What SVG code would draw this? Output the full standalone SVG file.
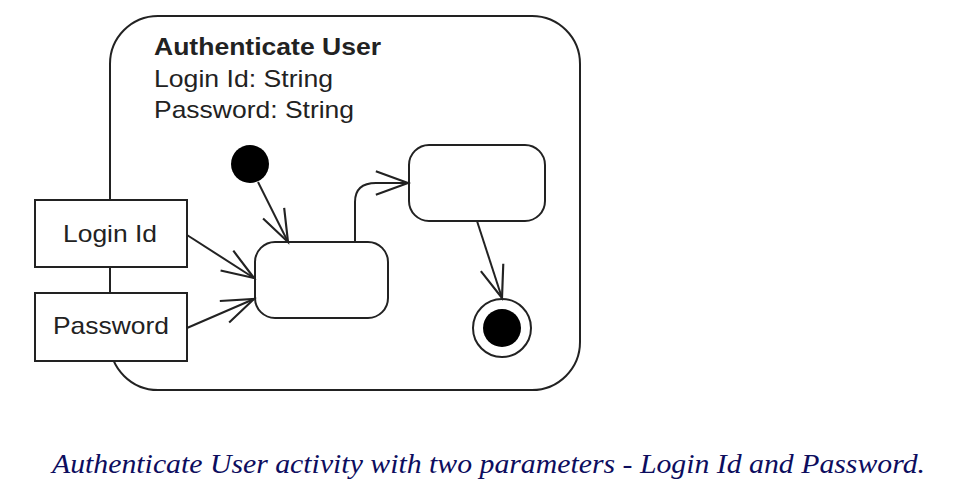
<svg xmlns="http://www.w3.org/2000/svg" width="966" height="494" viewBox="0 0 966 494">
<style>
.ln{fill:none;stroke:#222;stroke-width:2}
.bx{fill:#fff;stroke:#222;stroke-width:2}
.t{font-family:"Liberation Sans",Arial,sans-serif;font-size:24px;fill:#222}
.b{font-weight:bold}
.cap{font-family:"Liberation Serif","Times New Roman",serif;font-style:italic;font-size:28px;fill:#0d0d5e}
</style>
<defs>
<marker id="arr" markerUnits="userSpaceOnUse" markerWidth="40" markerHeight="30" refX="0" refY="0" viewBox="-32 -14 34 28" orient="auto" overflow="visible">
<path d="M-30,-11 L0,0 L-30,11" fill="none" stroke="#222" stroke-width="2"/>
</marker>
</defs>
<rect width="966" height="494" fill="#fff"/>
<g id="activity">
<rect class="bx" x="110" y="16" width="470" height="374" rx="48" ry="48"/>
<text class="t b" x="154" y="55" textLength="227" lengthAdjust="spacingAndGlyphs">Authenticate User</text>
<text class="t" x="154" y="87" textLength="179" lengthAdjust="spacingAndGlyphs">Login Id: String</text>
<text class="t" x="154" y="118" textLength="200" lengthAdjust="spacingAndGlyphs">Password: String</text>
</g>
<g id="login">
<rect class="bx" x="35" y="200" width="152" height="67"/>
<text class="t" x="63" y="242" textLength="94" lengthAdjust="spacingAndGlyphs">Login Id</text>
</g>
<g id="password">
<rect class="bx" x="35" y="293" width="152" height="68"/>
<text class="t" x="53" y="334" textLength="116" lengthAdjust="spacingAndGlyphs">Password</text>
</g>
<g id="initial">
<circle cx="250" cy="164" r="19" fill="#000"/>
</g>
<g id="action1">
<rect class="bx" x="255" y="242" width="133" height="76" rx="20" ry="20"/>
</g>
<g id="action2">
<rect class="bx" x="409" y="145" width="136" height="76" rx="20" ry="20"/>
</g>
<g id="final">
<circle cx="502" cy="328" r="29" fill="#fff" stroke="#222" stroke-width="2"/>
<circle cx="502" cy="328" r="19" fill="#000"/>
</g>
<g id="connectors">
<path class="ln" d="M258,182 L288,242" marker-end="url(#arr)"/>
<path class="ln" d="M187,235 L254,278" marker-end="url(#arr)"/>
<path class="ln" d="M187,328 L254,299" marker-end="url(#arr)"/>
<path class="ln" d="M355,242 V202 Q355,183 376,183 L408,183" marker-end="url(#arr)"/>
<path class="ln" d="M477,221 L502,298" marker-end="url(#arr)"/>
</g>
<text class="cap" x="52" y="473" textLength="873" lengthAdjust="spacingAndGlyphs">Authenticate User activity with two parameters - Login Id and Password.</text>
</svg>
